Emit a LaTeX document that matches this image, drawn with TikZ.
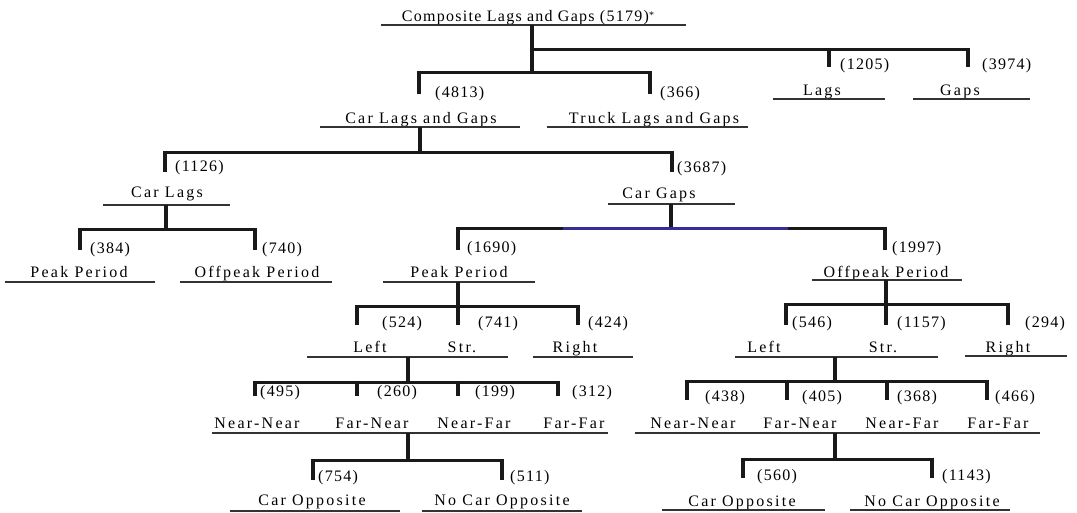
\documentclass[tikz,border=0pt]{standalone}
\usepackage{fontspec}
\setmainfont{Liberation Serif}[LetterSpace=14]
\newfontfamily\titlefont{Liberation Serif}[LetterSpace=8]
\newfontfamily\numfont{Liberation Serif}[LetterSpace=8]
\newcommand\myUL[3]{\draw[uline] (#1,#3) -- (#2,#3);}
\begin{document}
\begin{tikzpicture}[x=1pt,y=-1pt,
  lbl/.style={anchor=base, inner sep=0pt, font=\fontsize{16}{18}\selectfont},
  ttl/.style={anchor=base, inner sep=0pt, font=\titlefont\fontsize{16}{18}\selectfont},
  cnt/.style={anchor=base west, inner sep=0pt, font=\numfont\fontsize{16}{18}\selectfont},
  uline/.style={line width=1.3pt, draw=black!80},
  barl/.style={line width=3pt, draw=black!90},
  stemx/.style={line width=3.5pt, draw=black!90},
  dropl/.style={line width=4pt, draw=black!90, shorten <=-1.5pt}]
\useasboundingbox (0,0) rectangle (1077,512);
\fill[white] (0,0) rectangle (1077,512);

% ---------- texts ----------
\node[ttl] (comp) at (528,21) {Composite Lags and Gaps (5179)\raisebox{3pt}{\fontsize{10}{10}\selectfont *}};
\node[lbl] (lags) at (822,95) {Lags};
\node[lbl] (gaps) at (960,95) {Gaps};
\node[lbl] (clg) at (421,123) {Car Lags and Gaps};
\node[lbl] (tlg) at (654,123) {Truck Lags and Gaps};
\node[lbl] (carlags) at (167,197) {Car Lags};
\node[lbl] (cargaps) at (659,198) {Car Gaps};
\node[lbl] (pp1) at (79,277) {Peak Period};
\node[lbl] (op1) at (257,277) {Offpeak Period};
\node[lbl] (pp2) at (459,277) {Peak Period};
\node[lbl] (op2) at (886,277) {Offpeak Period};
\node[lbl] (lefta) at (370,352) {Left};
\node[lbl] (stra) at (462,352) {Str.};
\node[lbl] (righta) at (575,352) {Right};
\node[lbl] (leftb) at (764,352) {Left};
\node[lbl] (strb) at (883,352) {Str.};
\node[lbl] (rightb) at (1008,352) {Right};
\node[lbl] (nna) at (257,428) {Near-Near};
\node[lbl] (fna) at (372,428) {Far-Near};
\node[lbl] (nfa) at (474,428) {Near-Far};
\node[lbl] (ffa) at (574,428) {Far-Far};
\node[lbl] (nnb) at (693,428) {Near-Near};
\node[lbl] (fnb) at (800,428) {Far-Near};
\node[lbl] (nfb) at (902,428) {Near-Far};
\node[lbl] (ffb) at (998,428) {Far-Far};
\node[lbl] (coa) at (312,505) {Car Opposite};
\node[lbl] (ncoa) at (502,505) {No Car Opposite};
\node[lbl] (cob) at (742,506) {Car Opposite};
\node[lbl] (ncob) at (932,506) {No Car Opposite};

% ---------- counts ----------
\node[cnt] (n1205) at (840,69) {(1205)};
\node[cnt] (n3974) at (982,69) {(3974)};
\node[cnt] (n4813) at (435,97) {(4813)};
\node[cnt] (n366) at (660,97) {(366)};
\node[cnt] (n1126) at (175,171) {(1126)};
\node[cnt] (n3687) at (677,172) {(3687)};
\node[cnt] (n384) at (90,253) {(384)};
\node[cnt] (n740) at (262,253) {(740)};
\node[cnt] (n1690) at (467,252) {(1690)};
\node[cnt] (n1997) at (892,252) {(1997)};
\node[cnt] (n524) at (382,327) {(524)};
\node[cnt] (n741) at (478,327) {(741)};
\node[cnt] (n424) at (588,327) {(424)};
\node[cnt] (n546) at (792,327) {(546)};
\node[cnt] (n1157) at (897,327) {(1157)};
\node[cnt] (n294) at (1025,327) {(294)};
\node[cnt] (n495) at (260,396) {(495)};
\node[cnt] (n260) at (377,396) {(260)};
\node[cnt] (n199) at (475,396) {(199)};
\node[cnt] (n312) at (572,396) {(312)};
\node[cnt] (n438) at (705,401) {(438)};
\node[cnt] (n405) at (802,401) {(405)};
\node[cnt] (n368) at (897,401) {(368)};
\node[cnt] (n466) at (995,401) {(466)};
\node[cnt] (n754) at (318,481) {(754)};
\node[cnt] (n511) at (510,481) {(511)};
\node[cnt] (n560) at (757,480) {(560)};
\node[cnt] (n1143) at (942,480) {(1143)};

% ---------- underlines ----------
\myUL{381}{686}{25}
\myUL{773}{885}{99}
\myUL{913}{1030}{99}
\myUL{320}{520}{127}
\myUL{547}{748}{127}
\myUL{103}{230}{205}
\myUL{608}{735}{204}
\myUL{5}{155}{282}
\myUL{180}{332}{282}
\myUL{383}{535}{282}
\myUL{812}{962}{280}
\myUL{307}{508}{357}
\myUL{533}{633}{357}
\myUL{735}{938}{357}
\myUL{965}{1067}{356}
\myUL{212}{608}{433}
\myUL{635}{1040}{433}
\myUL{230}{400}{511}
\myUL{422}{582}{511}
\myUL{662}{825}{510}
\myUL{850}{1010}{510}

% ---------- bracket 0: Composite ----------
\coordinate (s0) at (532,25);
\coordinate (j0) at (532,72);
\coordinate (j0b) at (532,49);
\coordinate (b0a) at (419,72);  \coordinate (e0a) at (419,94);
\coordinate (b0b) at (650,72);  \coordinate (e0b) at (650,94);
\coordinate (b0c) at (829,49);  \coordinate (e0c) at (829,67);
\coordinate (b0d) at (968,49);  \coordinate (e0d) at (968,67);
\draw[stemx] (s0) -- (j0);
\draw[barl] (b0a) -- (b0b);
\draw[barl] (j0b) -- (b0d);
\draw[dropl] (b0a) -- (e0a);
\draw[dropl] (b0b) -- (e0b);
\draw[dropl] (b0c) -- (e0c);
\draw[dropl] (b0d) -- (e0d);

% ---------- bracket 1: Car Lags and Gaps ----------
\coordinate (s1) at (420,127);
\coordinate (j1) at (420,152);
\coordinate (b1a) at (165,152);  \coordinate (e1a) at (165,172);
\coordinate (b1b) at (672,152);  \coordinate (e1b) at (672,172);
\draw[stemx] (s1) -- (j1);
\draw[barl] (b1a) -- (b1b);
\draw[dropl] (b1a) -- (e1a);
\draw[dropl] (b1b) -- (e1b);

% ---------- bracket 2: Car Lags ----------
\coordinate (s2) at (166,205);
\coordinate (j2) at (166,229);
\coordinate (b2a) at (80,229);  \coordinate (e2a) at (80,250);
\coordinate (b2b) at (255,229); \coordinate (e2b) at (255,250);
\draw[stemx] (s2) -- (j2);
\draw[barl] (b2a) -- (b2b);
\draw[dropl] (b2a) -- (e2a);
\draw[dropl] (b2b) -- (e2b);

% ---------- bracket 3: Car Gaps ----------
\coordinate (s3) at (671,204);
\coordinate (j3) at (671,228);
\coordinate (b3a) at (458,228); \coordinate (e3a) at (458,250);
\coordinate (b3b) at (885,228); \coordinate (e3b) at (885,250);
\coordinate (bl1) at (563,228); \coordinate (bl2) at (788,228);
\draw[stemx] (s3) -- (j3);
\draw[barl] (b3a) -- (b3b);
\draw[barl, draw={rgb,255:red,55;green,45;blue,150}] (bl1) -- (bl2);
\draw[dropl] (b3a) -- (e3a);
\draw[dropl] (b3b) -- (e3b);

% ---------- bracket 4: Peak Period (gaps) ----------
\coordinate (s4) at (458,282);
\coordinate (j4) at (458,306);
\coordinate (b4a) at (357,306); \coordinate (e4a) at (357,325);
\coordinate (b4b) at (458,306); \coordinate (e4b) at (458,325);
\coordinate (b4c) at (578,306); \coordinate (e4c) at (578,325);
\draw[stemx] (s4) -- (j4);
\draw[barl] (b4a) -- (b4c);
\draw[dropl] (b4a) -- (e4a);
\draw[dropl] (b4b) -- (e4b);
\draw[dropl] (b4c) -- (e4c);

% ---------- bracket 5: Offpeak Period (gaps) ----------
\coordinate (s5) at (886,280);
\coordinate (j5) at (886,304);
\coordinate (b5a) at (786,304);  \coordinate (e5a) at (786,325);
\coordinate (b5b) at (886,304);  \coordinate (e5b) at (886,325);
\coordinate (b5c) at (1008,304); \coordinate (e5c) at (1008,325);
\draw[stemx] (s5) -- (j5);
\draw[barl] (b5a) -- (b5c);
\draw[dropl] (b5a) -- (e5a);
\draw[dropl] (b5b) -- (e5b);
\draw[dropl] (b5c) -- (e5c);

% ---------- bracket 6: Left/Str. (peak) ----------
\coordinate (s6) at (408,357);
\coordinate (j6) at (408,382);
\coordinate (b6a) at (255,382); \coordinate (e6a) at (255,396);
\coordinate (b6b) at (357,382); \coordinate (e6b) at (357,396);
\coordinate (b6c) at (458,382); \coordinate (e6c) at (458,396);
\coordinate (b6d) at (558,382); \coordinate (e6d) at (558,396);
\draw[stemx] (s6) -- (j6);
\draw[barl] (b6a) -- (b6d);
\draw[dropl] (b6a) -- (e6a);
\draw[dropl] (b6b) -- (e6b);
\draw[dropl] (b6c) -- (e6c);
\draw[dropl] (b6d) -- (e6d);

% ---------- bracket 7: Left/Str. (offpeak) ----------
\coordinate (s7) at (835,357);
\coordinate (j7) at (835,381);
\coordinate (b7a) at (687,381); \coordinate (e7a) at (687,400);
\coordinate (b7b) at (787,381); \coordinate (e7b) at (787,400);
\coordinate (b7c) at (887,381); \coordinate (e7c) at (887,400);
\coordinate (b7d) at (987,381); \coordinate (e7d) at (987,400);
\draw[stemx] (s7) -- (j7);
\draw[barl] (b7a) -- (b7d);
\draw[dropl] (b7a) -- (e7a);
\draw[dropl] (b7b) -- (e7b);
\draw[dropl] (b7c) -- (e7c);
\draw[dropl] (b7d) -- (e7d);

% ---------- bracket 8: near/far (peak) ----------
\coordinate (s8) at (408,433);
\coordinate (j8) at (408,460);
\coordinate (b8a) at (313,460); \coordinate (e8a) at (313,480);
\coordinate (b8b) at (502,460); \coordinate (e8b) at (502,480);
\draw[stemx] (s8) -- (j8);
\draw[barl] (b8a) -- (b8b);
\draw[dropl] (b8a) -- (e8a);
\draw[dropl] (b8b) -- (e8b);

% ---------- bracket 9: near/far (offpeak) ----------
\coordinate (s9) at (835,433);
\coordinate (j9) at (835,459);
\coordinate (b9a) at (743,459); \coordinate (e9a) at (743,478);
\coordinate (b9b) at (932,459); \coordinate (e9b) at (932,478);
\draw[stemx] (s9) -- (j9);
\draw[barl] (b9a) -- (b9b);
\draw[dropl] (b9a) -- (e9a);
\draw[dropl] (b9b) -- (e9b);
\end{tikzpicture}
\end{document}
